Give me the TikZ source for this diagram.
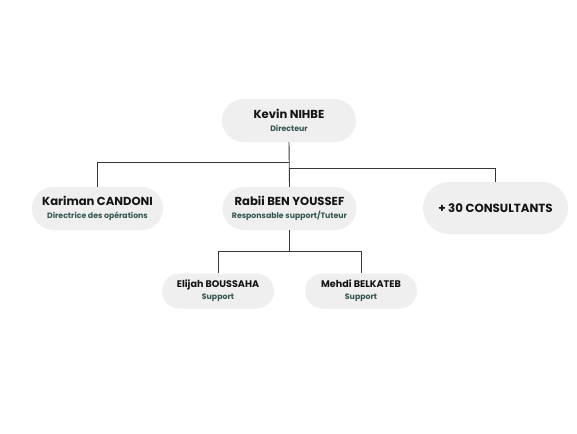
\documentclass[tikz,border=0pt]{standalone}
\usepackage{fontspec}
\setmainfont{Poppins}
\usepackage{tikz}
\usetikzlibrary{positioning, shapes.misc}
\definecolor{orgInk}{RGB}{20, 20, 20}
\definecolor{orgTeal}{RGB}{50, 85, 80}
\definecolor{orgPill}{RGB}{239, 239, 239}
\definecolor{orgLine}{RGB}{55, 55, 55}
\newcommand{\who}[2]{{\fontsize{11.6}{12}\selectfont #1}\\[0.5pt]{\fontsize{7.8}{9}\selectfont\color{orgTeal} #2}}
\newcommand{\crew}[2]{{\fontsize{9.6}{10}\selectfont #1}\\[0pt]{\fontsize{7.8}{9}\selectfont\color{orgTeal} #2}}
\tikzset{
    base/.style={
        font=\bfseries,
        align=center,
        text=orgInk
    },
    person/.style={
        base,
        rounded rectangle,
        fill=orgPill,
        inner sep=0pt,
        minimum width=134pt,
        minimum height=43pt
    },
    member/.style={
        person,
        minimum width=112pt,
        minimum height=35pt
    },
    crowd/.style={
        person,
        minimum width=145pt,
        minimum height=52pt
    },
    link/.style={
        draw=orgLine,
        line width=0.9pt
    }
}
\begin{document}
\begin{tikzpicture}[x=1pt, y=-1pt]
    \useasboundingbox[fill=white] (0,0) rectangle (577,433);

    % Top level
    \node[person] (kevin) at (289, 120.5) {\who{Kevin NIHBE}{Directeur}};

    % Second level
    \node[person, minimum width=131pt] (kariman) at (97.5, 208.5) {\who{Kariman CANDONI}{Directrice des opérations}};
    \node[person] (rabii) at (289.5, 208.5) {\who{Rabii BEN YOUSSEF}{Responsable support/Tuteur}};
    \node[crowd, font=\bfseries\fontsize{11.8}{13}\selectfont] (consult) at (495.5, 208) {+ 30 CONSULTANTS};

    % Support team
    \node[member] (elijah) at (218, 291) {\crew{Elijah BOUSSAHA}{Support}};
    \node[member] (mehdi) at (361, 291) {\crew{Mehdi BELKATEB}{Support}};

    % Links
    \draw[link] (kevin.south) -- (rabii.north);
    \draw[link] (kariman.north) |- ([yshift=-20.5pt]kevin.south);
    \draw[link] (consult.north) |- ([yshift=-26.5pt]kevin.south);
    \draw[link] (rabii.south) -- ([yshift=-21pt]rabii.south);
    \draw[link] (elijah.north) |- ([yshift=-21pt]rabii.south);
    \draw[link] (mehdi.north) |- ([yshift=-21pt]rabii.south);

\end{tikzpicture}
\end{document}
